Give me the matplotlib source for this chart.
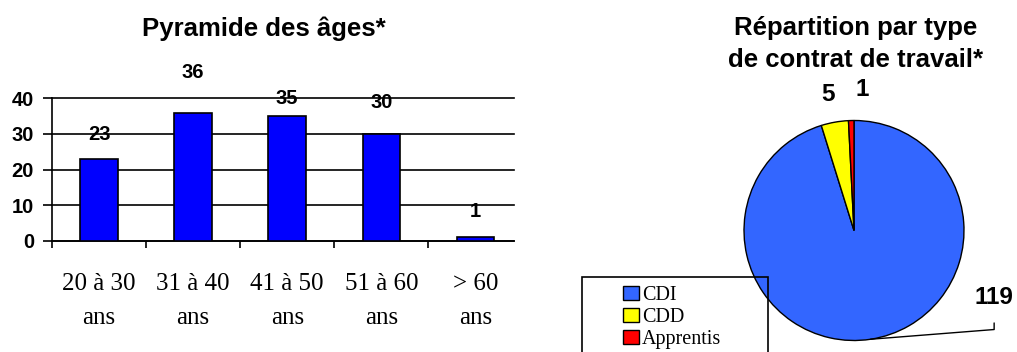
import matplotlib
matplotlib.use('Agg')
import matplotlib.pyplot as plt
import numpy as np
from matplotlib.patches import Rectangle

plt.rcParams['font.family'] = 'Liberation Sans'

# Pyramide des âges
age_groups = ['20 à 30\nans', '31 à 40\nans', '41 à 50\nans', '51 à 60\nans', '> 60\nans']
age_counts = [23, 36, 35, 30, 1]
# how far above each bar the value label sits (data units)
label_offsets = [6.9, 11.1, 5.0, 8.8, 7.3]

# Répartition par type de contrat
contract_types = ['CDI', 'CDD', 'Apprentis']
contract_counts = [119, 5, 1]
contract_colors = ['#3366FF', '#FFFF00', '#FF0000']
# label offsets from the wedge edge, in points
pie_label_offsets = [(89, 30), (-4.6, 19.6), (7.6, 22.2)]

W, H = 1017, 352
fig = plt.figure(figsize=(W / 100, H / 100), dpi=100)

# ---- bar chart ----
ax1 = fig.add_axes([52 / W, (H - 241) / H, (514 - 52) / W, (241 - 98.3) / H])
x = np.arange(len(age_groups))
ax1.bar(x, age_counts, width=0.4, color='#0000FF', edgecolor='black', linewidth=1.2, zorder=3)
for xi, v, off in zip(x, age_counts, label_offsets):
    ax1.text(xi, v + off, str(v), ha='center', va='center', fontsize=14.5,
             fontweight='bold', clip_on=False, zorder=4)

ax1.set_xlim(-0.5, 4.41)
ax1.set_ylim(0, 40)
ax1.set_yticks([0, 10, 20, 30, 40])
ax1.grid(axis='y', color='black', linewidth=1.2, zorder=1)
for gl in ax1.get_ygridlines():
    gl.set_clip_on(False)
ax1.set_axisbelow(True)
ax1.tick_params(axis='y', length=6.5, width=1.2, pad=6.5, labelsize=14.5)
for lab in ax1.get_yticklabels():
    lab.set_fontweight('bold')

ax1.set_xticks(x)
ax1.set_xticklabels(age_groups, fontsize=18, family='Liberation Serif', linespacing=1.7)
ax1.set_xticks(x - 0.5, minor=True)
ax1.tick_params(axis='x', which='major', length=0, pad=23)
ax1.tick_params(axis='x', which='minor', length=5, width=1.2)
for s in ['top', 'right']:
    ax1.spines[s].set_visible(False)
for s in ['left', 'bottom']:
    ax1.spines[s].set_linewidth(1.2)

fig.text(264 / W, 1 - 16.5 / H, 'Pyramide des âges*', ha='center', va='top',
         fontsize=18.5, fontweight='bold')

# ---- pie chart ----
ax2 = fig.add_axes([744 / W, (H - 340.5) / H, 220 / W, 220 / H])
wedges, _ = ax2.pie(contract_counts, colors=contract_colors, startangle=90, counterclock=False,
                    wedgeprops=dict(edgecolor='black', linewidth=1.0))
ax2.set_xlim(-1, 1)
ax2.set_ylim(-1, 1)

for i, (w, v, off) in enumerate(zip(wedges, contract_counts, pie_label_offsets)):
    mid = np.deg2rad((w.theta1 + w.theta2) / 2)
    anchor = (np.cos(mid), np.sin(mid))
    kw = {}
    if i == 0:
        kw['arrowprops'] = dict(arrowstyle='-', color='black', linewidth=1.0,
                                connectionstyle='angle,angleA=90,angleB=4.5,rad=0',
                                shrinkA=8, shrinkB=0)
    ax2.annotate(str(v), xy=anchor, xytext=off, textcoords='offset points',
                 ha='center', va='center', fontsize=17.5, fontweight='bold',
                 annotation_clip=False, **kw)

fig.text(856 / W, 1 - 16.5 / H, 'Répartition par type\nde contrat de travail*', ha='center',
         va='top', fontsize=18.5, fontweight='bold', linespacing=1.42)

# legend with its (partly cut) frame
fig.legend(wedges, contract_types, loc='upper left', bbox_to_anchor=(623 / W, 1 - 286.3 / H),
           frameon=False, prop={'family': 'Liberation Serif', 'size': 14.5},
           handlelength=0.8, handleheight=0.7, handletextpad=0.15, labelspacing=0.13,
           borderpad=0, borderaxespad=0)
fig.add_artist(Rectangle((582 / W, -0.2), (768 - 582) / W, (H - 277) / H + 0.2,
                         transform=fig.transFigure, fill=False, edgecolor='black',
                         linewidth=1.2, zorder=5))

fig.savefig('out.png', dpi=100)
